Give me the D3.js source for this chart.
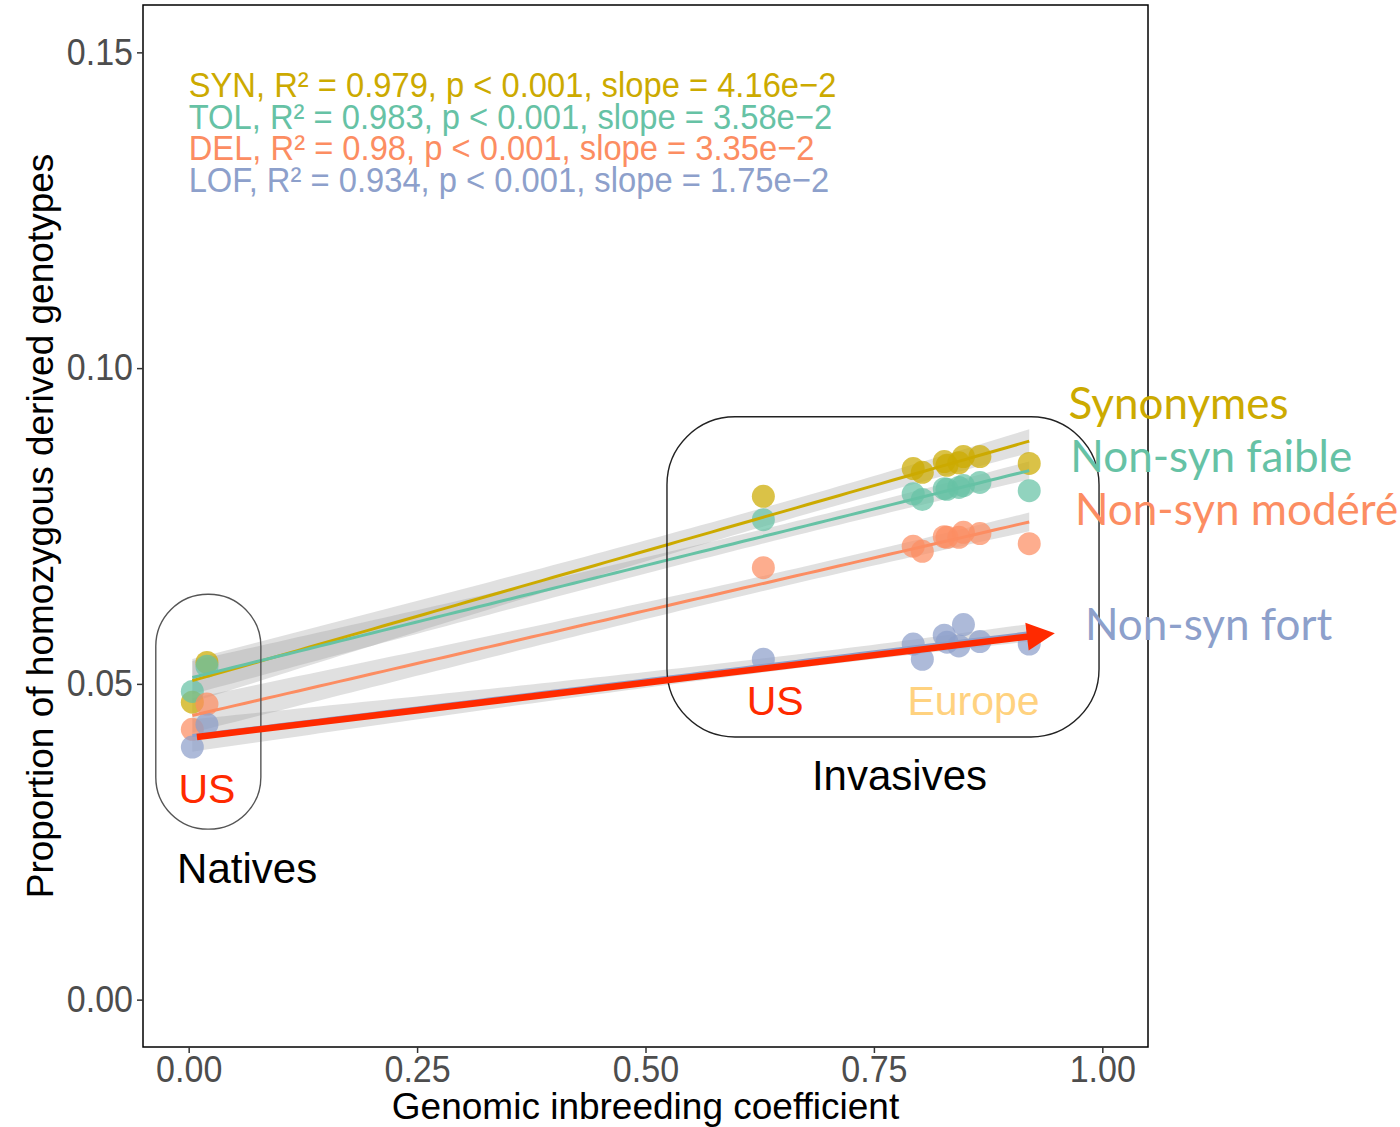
<!DOCTYPE html>
<html>
<head>
<meta charset="utf-8">
<script src="https://cdn.jsdelivr.net/npm/d3@7"></script>
<style>
body { margin: 0; background: #fff; }
text { font-family: "Liberation Sans", Arial, sans-serif; }
</style>
</head>
<body>
<div id="chart"></div>
<script>
// Data: one value per population (2 natives US, 1 invasive US, 8 Europe)
const inbreeding = [0.004, 0.020, 0.629, 0.793, 0.803, 0.827, 0.830, 0.843, 0.848, 0.866, 0.920]

const synValues = [0.0471, 0.0534, 0.0797, 0.0841, 0.0835, 0.0852, 0.0846, 0.0850, 0.0860, 0.0860, 0.0849]
const tolValues = [0.0488, 0.0528, 0.0760, 0.0801, 0.0792, 0.0809, 0.0808, 0.0811, 0.0814, 0.0819, 0.0806]
const delValues = [0.0428, 0.0468, 0.0684, 0.0718, 0.0710, 0.0733, 0.0732, 0.0732, 0.0740, 0.0738, 0.0722]
const lofValues = [0.0400, 0.0436, 0.0539, 0.0563, 0.0539, 0.0577, 0.0566, 0.0560, 0.0594, 0.0567, 0.0563]

const seriesNames = ["SYN", "TOL", "DEL", "LOF"]
const r2Labels = ["0.979", "0.983", "0.98", "0.934"]
const slopeLabels = ["4.16e\u22122", "3.58e\u22122", "3.35e\u22122", "1.75e\u22122"]
const classLabels = ["Synonymes", "Non-syn faible", "Non-syn mod\u00e9r\u00e9", "Non-syn fort"]

const xTicks = [0, 0.25, 0.50, 0.75, 1.00]
const yTicks = [0, 0.05, 0.10, 0.15]

const colors = ["#CCAA00", "#66C2A5", "#FC8D62", "#8DA0CB"]
const allValues = [synValues, tolValues, delValues, lofValues]

let dimensions = {
    width: 1400,
    height: 1127,
    panel: { left: 143, right: 1148, top: 5, bottom: 1047 }
}

const svg = d3.select("#chart")
    .append("svg")
    .attr("width", dimensions.width)
    .attr("height", dimensions.height)

const xScale = d3.scaleLinear()
    .domain([-0.05, 1.05])
    .range([dimensions.panel.left, dimensions.panel.right])

const yScale = d3.scaleLinear()
    .domain([-0.0075, 0.1575])
    .range([dimensions.panel.bottom, dimensions.panel.top])

// the ggplot text in the picture is a bit narrow, squeeze it horizontally
function squeeze(sel, f) {
    sel.each(function () {
        const w = this.getComputedTextLength()
        d3.select(this).attr("textLength", w * f).attr("lengthAdjust", "spacingAndGlyphs")
    })
}

// linear fit + 95% confidence band (like geom_smooth(method = "lm"))
function fitLm(xs, ys) {
    const n = xs.length
    const mx = d3.mean(xs), my = d3.mean(ys)
    let sxx = 0, sxy = 0
    xs.forEach((x, i) => { sxx += (x - mx) ** 2; sxy += (x - mx) * (ys[i] - my) })
    const b = sxy / sxx
    const a = my - b * mx
    let sse = 0
    xs.forEach((x, i) => { sse += (ys[i] - a - b * x) ** 2 })
    const s = Math.sqrt(sse / (n - 2))
    const t = 2.262 // qt(0.975, 9)
    const lo = d3.min(xs), hi = d3.max(xs)
    return d3.range(80).map(k => {
        const x = lo + k * (hi - lo) / 79
        const yhat = a + b * x
        const se = s * Math.sqrt(1 / n + (x - mx) ** 2 / sxx)
        return { x: x, y: yhat, y0: yhat - t * se, y1: yhat + t * se }
    })
}

const fits = allValues.map(vals => fitLm(inbreeding, vals))

const plot = svg.append("g")

// Confidence bands
plot.selectAll(".band")
    .data(fits)
    .join("path")
    .attr("class", "band")
    .attr("fill", "#999999")
    .attr("fill-opacity", 0.3)
    .attr("d", d3.area().x(d => xScale(d.x)).y0(d => yScale(d.y0)).y1(d => yScale(d.y1)))

// Points
allValues.forEach((vals, si) => {
    plot.append("g")
        .selectAll("circle")
        .data(vals)
        .join("circle")
        .attr("cx", (d, i) => xScale(inbreeding[i]))
        .attr("cy", d => yScale(d))
        .attr("r", 11.5)
        .attr("fill", colors[si])
        .attr("fill-opacity", 0.72)
})

// Fitted lines
plot.selectAll(".fit")
    .data(fits)
    .join("path")
    .attr("class", "fit")
    .attr("fill", "none")
    .attr("stroke", (d, i) => colors[i])
    .attr("stroke-width", 3)
    .attr("d", d3.line().x(d => xScale(d.x)).y(d => yScale(d.y)))

// Panel border
svg.append("rect")
    .attr("x", dimensions.panel.left)
    .attr("y", dimensions.panel.top)
    .attr("width", dimensions.panel.right - dimensions.panel.left)
    .attr("height", dimensions.panel.bottom - dimensions.panel.top)
    .attr("fill", "none")
    .attr("stroke", "#000")
    .attr("stroke-width", 1.5)

// Axes
const xAxis = d3.axisBottom(xScale).tickValues(xTicks).tickFormat(d3.format(".2f")).tickSize(6).tickSizeOuter(0).tickPadding(3)
const yAxis = d3.axisLeft(yScale).tickValues(yTicks).tickFormat(d3.format(".2f")).tickSize(6).tickSizeOuter(0).tickPadding(4)

const xAxisGroup = svg.append("g")
    .attr("transform", `translate(0, ${dimensions.panel.bottom})`)
    .call(xAxis)
const yAxisGroup = svg.append("g")
    .attr("transform", `translate(${dimensions.panel.left}, 0)`)
    .call(yAxis)

;[xAxisGroup, yAxisGroup].forEach(g => {
    g.select(".domain").remove()
    g.selectAll("line").attr("stroke", "#333").attr("stroke-width", 1.5)
    g.selectAll("text")
        .attr("fill", "#4D4D4D")
        .attr("font-size", "37px")
        .style("font-family", '"Liberation Sans", Arial, sans-serif')
        .call(squeeze, 0.92)
})

// Axis titles
svg.append("text")
    .attr("x", (dimensions.panel.left + dimensions.panel.right) / 2)
    .attr("y", 1119)
    .attr("text-anchor", "middle")
    .attr("font-size", "37px")
    .text("Genomic inbreeding coefficient")

svg.append("text")
    .attr("transform", `translate(53, ${(dimensions.panel.top + dimensions.panel.bottom) / 2}) rotate(-90)`)
    .attr("text-anchor", "middle")
    .attr("font-size", "37px")
    .text("Proportion of homozygous derived genotypes")

// Regression stats
svg.selectAll(".stat")
    .data(seriesNames)
    .join("text")
    .attr("class", "stat")
    .attr("x", xScale(0))
    .attr("y", (d, i) => dimensions.panel.top + 92 + i * 31.5)
    .attr("font-size", "35px")
    .attr("fill", (d, i) => colors[i])
    .text((d, i) => `${d}, R\u00b2 = ${r2Labels[i]}, p < 0.001, slope = ${slopeLabels[i]}`)
    .call(squeeze, 0.935)

// Group boxes (data coordinates)
const boxes = [
    { x0: -0.036, x1: 0.079, y0: 0.0270, y1: 0.0642, r: 52, stroke: "#555" },
    { x0: 0.5235, x1: 0.9964, y0: 0.0416, y1: 0.0923, r: 68, stroke: "#222" }
]
svg.selectAll(".box")
    .data(boxes)
    .join("rect")
    .attr("class", "box")
    .attr("x", d => xScale(d.x0))
    .attr("y", d => yScale(d.y1))
    .attr("width", d => xScale(d.x1) - xScale(d.x0))
    .attr("height", d => yScale(d.y0) - yScale(d.y1))
    .attr("rx", d => d.r)
    .attr("ry", d => d.r)
    .attr("fill", "none")
    .attr("stroke", d => d.stroke)
    .attr("stroke-width", 1.4)

// Red arrow
const arrowFrom = [0.009, 0.0416], arrowTo = [0.948, 0.0580]
const ax0 = xScale(arrowFrom[0]), ay0 = yScale(arrowFrom[1])
const ax1 = xScale(arrowTo[0]), ay1 = yScale(arrowTo[1])
const len = Math.hypot(ax1 - ax0, ay1 - ay0)
const ux = (ax1 - ax0) / len, uy = (ay1 - ay0) / len
const headLen = 28, headHalf = 14
const bx = ax1 - ux * headLen, by = ay1 - uy * headLen
svg.append("line")
    .attr("x1", ax0).attr("y1", ay0)
    .attr("x2", bx + ux * 2).attr("y2", by + uy * 2)
    .attr("stroke", "#FF2A00")
    .attr("stroke-width", 6.5)
svg.append("path")
    .attr("d", `M${ax1},${ay1}L${bx - uy * headHalf},${by + ux * headHalf}L${bx + uy * headHalf},${by - ux * headHalf}Z`)
    .attr("fill", "#FF2A00")

// Annotation texts
const notes = [
    { text: "US", x: 0.020, y: 0.0311, size: 41, color: "#FF2A00" },
    { text: "Natives", x: 0.064, y: 0.0185, size: 42, color: "#000" },
    { text: "US", x: 0.642, y: 0.0451, size: 41, color: "#FF2A00" },
    { text: "Europe", x: 0.859, y: 0.0451, size: 41, color: "#FFD27F" },
    { text: "Invasives", x: 0.778, y: 0.0332, size: 42, color: "#000" }
]
svg.selectAll(".note")
    .data(notes)
    .join("text")
    .attr("class", "note")
    .attr("x", d => xScale(d.x))
    .attr("y", d => yScale(d.y))
    .attr("text-anchor", "middle")
    .attr("font-size", d => d.size + "px")
    .attr("fill", d => d.color)
    .text(d => d.text)

// Class labels on the right
const classPos = [[0.963, 0.0919], [0.965, 0.0835], [0.970, 0.0751], [0.981, 0.0569]]
svg.selectAll(".cls")
    .data(classLabels)
    .join("text")
    .attr("class", "cls")
    .attr("x", (d, i) => xScale(classPos[i][0]))
    .attr("y", (d, i) => yScale(classPos[i][1]))
    .attr("font-size", "44px")
    .style("font-family", "Lato, sans-serif")
    .attr("fill", (d, i) => colors[i])
    .text(d => d)
</script>
</body>
</html>
